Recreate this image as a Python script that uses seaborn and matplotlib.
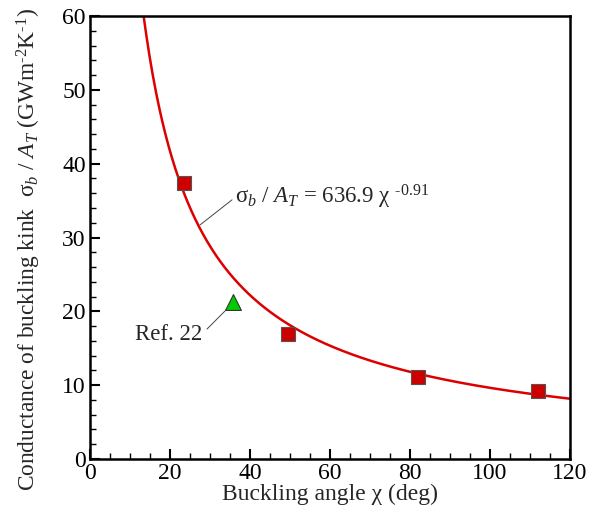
import numpy as np
import pandas as pd
import matplotlib
matplotlib.use("Agg")
import matplotlib.pyplot as plt
from matplotlib.ticker import MultipleLocator
import seaborn as sns

# Data
angle_md = [23.5, 49.6, 82.1, 111.9]
cond_md = [37.4, 16.9, 11.15, 9.25]
angle_ref = [35.8]
cond_ref = [21.2]
fit_coef = 636.9
fit_exp = -0.91
fit_xmin, fit_xmax = 13.0, 120.0

sns.set_style("ticks")
plt.rcParams["font.family"] = ["Liberation Serif", "DejaVu Serif"]
plt.rcParams["mathtext.fontset"] = "custom"
plt.rcParams["mathtext.rm"] = "Liberation Serif"
plt.rcParams["mathtext.it"] = "Liberation Serif:italic"
plt.rcParams["mathtext.bf"] = "Liberation Serif:bold"

fig = plt.figure(figsize=(5.89, 5.15), dpi=100)
ax = fig.add_axes([90/589, 1 - 459/515, (570-90)/589, (459-16)/515])

xf = np.linspace(fit_xmin, fit_xmax, 400)
fit_df = pd.DataFrame({"x": xf, "y": fit_coef * xf ** fit_exp})
sns.lineplot(data=fit_df, x="x", y="y", ax=ax, color="#dd0000", lw=1.8)

sns.scatterplot(x=angle_md, y=cond_md, ax=ax, marker="s", s=110,
                color="#cc0000", edgecolor="#555555", linewidth=0.8, zorder=5)
sns.scatterplot(x=angle_ref, y=cond_ref, ax=ax, marker="^", s=130,
                color="#00cc00", edgecolor="#333333", linewidth=0.8, zorder=5)

ax.set_xlim(0, 120)
ax.set_ylim(0, 60)
ax.xaxis.set_major_locator(MultipleLocator(20))
ax.xaxis.set_minor_locator(MultipleLocator(5))
ax.yaxis.set_major_locator(MultipleLocator(10))
ax.yaxis.set_minor_locator(MultipleLocator(2))
ax.tick_params(which="both", direction="in", top=False, right=False,
               labelsize=17, width=1.5, colors="black")
ax.tick_params(which="major", length=7, pad=3)
ax.tick_params(which="minor", length=4, width=1)
for sp in ax.spines.values():
    sp.set_linewidth(1.8)
    sp.set_color("black")

ax.set_xlabel("Buckling angle χ (deg)", fontsize=17, labelpad=0)
ax.set_ylabel(r"Conductance of buckling kink  σ$_{b}$ / $A_T$ (GWm$^{\text{-2}}$K$^{\text{-1}}$)",
              fontsize=16.8)
ax.yaxis.set_label_coords(-0.098, 0.472)

line_kw = dict(arrowstyle="-", color="#444444", lw=0.7, shrinkA=0, shrinkB=0)
ax.annotate("", xy=(27.5, 31.7), xytext=(35.5, 35.1), arrowprops=line_kw)
ax.text(36.2, 34.6, r"σ$_{b}$ / $A_T$ = 636.9 χ $^{\text{-0.91}}$", fontsize=16.5,
        va="baseline", ha="left")
ax.annotate("", xy=(34.5, 20.45), xytext=(29.25, 17.6), arrowprops=line_kw)
ax.text(28.0, 16.9, "Ref. 22", fontsize=16.5, va="center", ha="right")

ax.set_facecolor("white")
fig.savefig("out.png", dpi=100, facecolor="white")
